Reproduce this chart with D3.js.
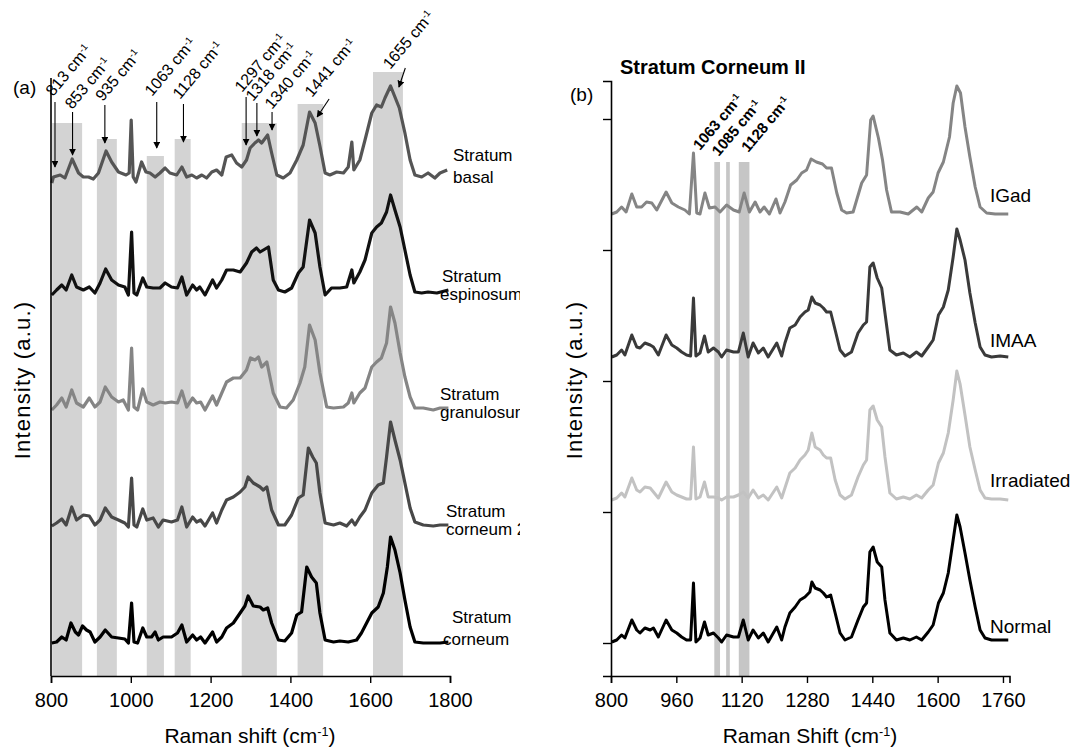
<!DOCTYPE html>
<html>
<head>
<meta charset="utf-8">
<script src="https://cdn.jsdelivr.net/npm/d3@7"></script>
<style>
  body { margin: 0; background: #fff; }
  text { font-family: "Liberation Sans", Arial, sans-serif; fill: #000; }
</style>
</head>
<body>
<div id="chart"></div>
<script>
var w = 1073;
var h = 753;

// *** DATA ***
// each spectrum: [Raman shift (cm-1), intensity above its own baseline (a.u.)]
var basal = [[802,-1],[806,5],[823,7],[835,4],[853,23],[869,9],[881,5],[894,5],[906,3],[919,9],[938,31],[952,20],[969,10],[988,7],[996,9],[1001,62],[1006,5],[1013,0],[1027,20],[1038,10],[1048,9],[1061,5],[1073,9],[1086,14],[1098,9],[1115,7],[1128,15],[1140,5],[1153,7],[1165,4],[1178,7],[1190,4],[1203,10],[1215,12],[1228,7],[1239,25],[1253,27],[1265,19],[1278,15],[1290,22],[1299,34],[1311,39],[1320,42],[1328,39],[1343,47],[1353,29],[1366,7],[1382,4],[1399,9],[1416,22],[1432,37],[1448,70],[1462,59],[1474,36],[1487,9],[1499,7],[1516,10],[1533,9],[1545,15],[1554,40],[1559,12],[1574,22],[1587,42],[1604,69],[1616,77],[1628,75],[1637,84],[1651,96],[1662,85],[1673,74],[1687,49],[1700,22],[1712,7],[1729,5],[1745,9],[1762,4],[1775,9],[1793,12]];
var espinosum = [[802,-2],[814,3],[827,8],[838,3],[852,18],[864,6],[881,3],[896,6],[910,0],[923,10],[937,24],[952,13],[969,8],[985,6],[994,-2],[1002,61],[1008,0],[1015,-2],[1030,15],[1040,6],[1056,5],[1073,5],[1086,10],[1102,6],[1117,5],[1128,16],[1140,-2],[1155,8],[1165,3],[1173,6],[1186,-2],[1205,13],[1215,5],[1228,13],[1240,23],[1257,23],[1274,21],[1290,30],[1303,41],[1315,45],[1324,41],[1345,46],[1357,13],[1370,3],[1386,1],[1403,5],[1420,20],[1432,26],[1448,73],[1462,60],[1474,26],[1487,-2],[1503,5],[1524,5],[1541,6],[1554,23],[1559,10],[1574,21],[1587,33],[1604,60],[1616,66],[1628,70],[1641,81],[1651,98],[1662,83],[1675,66],[1687,43],[1700,18],[1712,1],[1729,0],[1745,1],[1767,0],[1796,3]];
var granulosum = [[802,-2],[814,3],[827,10],[838,1],[852,18],[864,5],[881,1],[896,10],[910,1],[923,6],[936,21],[952,11],[969,6],[981,8],[994,-2],[1002,60],[1008,1],[1017,-2],[1030,19],[1040,6],[1056,3],[1073,6],[1086,5],[1102,6],[1117,5],[1128,17],[1140,1],[1155,10],[1165,5],[1175,6],[1186,-2],[1205,12],[1215,3],[1228,15],[1240,26],[1257,30],[1274,30],[1290,38],[1300,50],[1311,48],[1320,51],[1328,41],[1341,46],[1357,15],[1374,1],[1390,0],[1407,8],[1424,25],[1436,41],[1448,83],[1462,68],[1474,35],[1491,1],[1508,0],[1533,1],[1545,5],[1554,15],[1559,5],[1574,15],[1587,20],[1604,41],[1616,46],[1628,50],[1641,65],[1651,101],[1662,85],[1675,55],[1687,31],[1700,11],[1712,0],[1733,0],[1758,-2],[1775,0],[1796,0]];
var corneum2 = [[802,-1],[814,2],[827,6],[838,0],[852,18],[864,5],[881,10],[896,9],[910,0],[923,5],[936,17],[952,8],[969,5],[985,2],[994,-2],[1002,47],[1008,0],[1015,-2],[1030,16],[1040,5],[1056,7],[1069,-2],[1081,5],[1102,3],[1117,5],[1128,18],[1140,-2],[1155,8],[1165,3],[1175,5],[1186,-1],[1205,12],[1215,2],[1228,15],[1240,25],[1257,28],[1274,33],[1286,38],[1294,48],[1307,42],[1324,38],[1332,35],[1341,38],[1353,15],[1370,0],[1386,0],[1403,10],[1420,27],[1432,30],[1445,77],[1456,68],[1465,62],[1474,32],[1487,2],[1508,0],[1524,2],[1541,-1],[1554,5],[1562,0],[1574,8],[1587,15],[1604,32],[1620,40],[1633,42],[1641,68],[1651,103],[1662,85],[1675,65],[1687,42],[1700,17],[1712,3],[1733,0],[1758,-1],[1775,0],[1796,0]];
var corneum = [[802,-1],[814,0],[827,5],[838,2],[850,19],[861,10],[869,7],[879,16],[889,12],[898,10],[910,0],[923,5],[936,12],[952,5],[969,4],[985,3],[994,-1],[1002,39],[1008,0],[1017,-1],[1030,14],[1040,5],[1052,5],[1061,10],[1069,2],[1081,5],[1102,5],[1117,9],[1128,17],[1140,0],[1155,7],[1165,2],[1175,5],[1186,-1],[1205,10],[1215,0],[1228,5],[1240,14],[1257,19],[1274,29],[1286,36],[1294,46],[1307,36],[1324,35],[1332,32],[1343,34],[1353,19],[1370,2],[1386,1],[1403,9],[1416,27],[1428,30],[1441,75],[1453,65],[1465,59],[1474,29],[1487,2],[1508,0],[1524,1],[1545,0],[1566,2],[1578,9],[1591,19],[1604,29],[1620,35],[1633,49],[1643,75],[1651,105],[1662,92],[1675,69],[1687,42],[1700,15],[1712,0],[1733,-1],[1758,-1],[1775,-1],[1796,0]];

var igad = [[802,0],[814,2],[826,7],[837,2],[851,20],[863,7],[875,7],[887,12],[900,11],[912,4],[935,22],[949,11],[965,7],[981,4],[992,0],[1002,61],[1010,1],[1018,0],[1030,21],[1041,6],[1055,7],[1067,2],[1083,9],[1100,4],[1114,2],[1126,21],[1139,2],[1153,12],[1165,2],[1175,7],[1188,0],[1204,15],[1214,1],[1226,12],[1240,29],[1255,34],[1267,41],[1279,44],[1290,55],[1303,52],[1318,50],[1328,46],[1340,46],[1353,21],[1365,4],[1377,1],[1393,2],[1414,31],[1426,39],[1436,94],[1442,98],[1455,76],[1465,54],[1475,24],[1487,2],[1508,2],[1528,0],[1549,7],[1561,2],[1577,16],[1589,22],[1601,41],[1614,52],[1629,77],[1638,111],[1647,128],[1656,121],[1667,87],[1679,57],[1692,27],[1704,7],[1720,1],[1741,0],[1773,0]];
var imaa = [[802,0],[814,2],[826,7],[834,2],[851,22],[863,10],[871,9],[883,14],[896,12],[904,10],[916,2],[935,22],[949,12],[961,9],[973,5],[985,2],[995,1],[1002,59],[1008,1],[1018,4],[1029,21],[1038,5],[1051,9],[1063,5],[1071,0],[1083,7],[1100,5],[1112,5],[1124,24],[1136,0],[1148,14],[1161,4],[1173,9],[1185,0],[1206,14],[1218,1],[1226,14],[1238,29],[1251,32],[1263,40],[1275,45],[1283,47],[1292,60],[1300,54],[1312,52],[1320,49],[1328,45],[1338,45],[1349,27],[1361,7],[1373,1],[1389,5],[1405,24],[1418,32],[1426,35],[1434,90],[1442,94],[1452,79],[1463,69],[1471,44],[1483,7],[1499,2],[1516,4],[1532,0],[1548,5],[1561,1],[1577,10],[1589,17],[1602,42],[1614,50],[1626,67],[1638,100],[1647,128],[1655,117],[1667,97],[1679,64],[1692,34],[1704,10],[1716,2],[1732,0],[1753,1],[1773,0]];
var irradiated = [[802,0],[814,2],[826,7],[834,3],[851,22],[863,10],[871,8],[883,13],[896,12],[904,8],[916,2],[935,18],[949,8],[961,5],[973,3],[985,1],[995,1],[1002,53],[1008,1],[1018,3],[1029,18],[1038,3],[1051,3],[1063,2],[1071,0],[1083,3],[1100,3],[1112,5],[1124,8],[1136,2],[1148,10],[1161,2],[1173,5],[1185,0],[1206,13],[1218,2],[1226,12],[1238,27],[1251,32],[1263,40],[1275,45],[1283,50],[1292,67],[1300,53],[1312,50],[1320,45],[1328,42],[1338,42],[1349,20],[1361,5],[1373,1],[1389,5],[1405,23],[1418,35],[1426,40],[1434,90],[1442,94],[1452,80],[1463,73],[1471,43],[1483,7],[1499,1],[1516,3],[1532,1],[1548,5],[1561,2],[1577,10],[1589,15],[1602,37],[1614,47],[1626,67],[1638,100],[1647,129],[1655,116],[1667,85],[1679,53],[1692,30],[1704,10],[1716,2],[1732,1],[1753,1],[1773,0]];
var normal = [[802,1],[814,3],[826,8],[834,5],[851,23],[863,13],[871,10],[883,15],[896,13],[904,15],[916,6],[935,23],[949,13],[961,10],[973,6],[985,3],[995,3],[1002,60],[1008,1],[1018,5],[1029,21],[1038,8],[1051,10],[1063,5],[1071,1],[1083,8],[1100,6],[1112,6],[1124,23],[1136,3],[1148,13],[1161,5],[1173,10],[1185,1],[1206,16],[1218,3],[1226,16],[1238,30],[1251,36],[1263,43],[1275,46],[1287,51],[1292,61],[1300,55],[1312,53],[1320,50],[1328,46],[1338,48],[1349,30],[1361,10],[1373,3],[1389,6],[1405,23],[1418,36],[1426,40],[1434,91],[1442,96],[1452,81],[1463,76],[1471,43],[1483,10],[1499,3],[1516,5],[1532,3],[1548,6],[1561,3],[1577,11],[1589,18],[1602,40],[1614,50],[1626,70],[1638,103],[1647,128],[1655,116],[1667,90],[1679,63],[1692,36],[1704,13],[1716,5],[1732,3],[1753,3],[1773,3]];

// panel (a) layers, bottom to top
var layersA = [
  {name: ["Stratum", "corneum"], data: corneum, offset: 34},
  {name: ["Stratum", "corneum 2"], data: corneum2, offset: 151},
  {name: ["Stratum", "granulosum"], data: granulosum, offset: 268},
  {name: ["Stratum", "espinosum"], data: espinosum, offset: 383},
  {name: ["Stratum", "basal"], data: basal, offset: 494}
];
// panel (b) layers, bottom to top
var layersB = [
  {name: "Normal", data: normal, offset: 0},
  {name: "Irradiated", data: irradiated, offset: 143},
  {name: "IMAA", data: imaa, offset: 286},
  {name: "IGad", data: igad, offset: 429}
];

// shaded bands [from, to, top (a.u.)]
var bandsA = [[803,878,553],[915,965,537],[1040,1083,520],[1110,1150,537],[1278,1366,553],[1418,1482,572],[1607,1682,604]];
var bandsB = [[1053,1067,481],[1082,1091,481],[1113,1139,481]];

var ticksA = [800,1000,1200,1400,1600,1800], minorA = [900,1100,1300,1500,1700];
var ticksB = [800,960,1120,1280,1440,1600,1760], minorB = [880,1040,1200,1360,1520,1680];
var yTicksB = [0,131,262,393,524];
// **************************

// peak annotations for panel (a): arrow top/tip and label anchor
var peaksA = [
  {label: "813",  ax0: 810,  ay0: 574, ax1: 810,  ay1: 509, lx: 805,  ly: 579},
  {label: "853",  ax0: 854,  ay0: 564, ax1: 854,  ay1: 521, lx: 853,  ly: 566},
  {label: "935",  ax0: 935,  ay0: 571, ax1: 935,  ay1: 533, lx: 930,  ly: 574},
  {label: "1063", ax0: 1065, ay0: 574, ax1: 1065, ay1: 528, lx: 1053, ly: 579},
  {label: "1128", ax0: 1132, ay0: 572, ax1: 1132, ay1: 534, lx: 1123, ly: 576},
  {label: "1297", ax0: 1289, ay0: 579, ax1: 1289, ay1: 531, lx: 1279, ly: 583},
  {label: "1318", ax0: 1316, ay0: 573, ax1: 1316, ay1: 540, lx: 1306, ly: 574},
  {label: "1340", ax0: 1354, ay0: 564, ax1: 1354, ay1: 546, lx: 1354, ly: 566},
  {label: "1441", ax0: 1497, ay0: 577, ax1: 1467, ay1: 559, lx: 1454, ly: 578},
  {label: "1655", ax0: 1688, ay0: 608, ax1: 1672, ay1: 589, lx: 1650, ly: 606}
];
var peaksB = [
  {label: "1063", lx: 1018, ly: 492},
  {label: "1085", lx: 1064, ly: 486},
  {label: "1128", lx: 1136, ly: 490}
];

var svg = d3.select("#chart")
    .append("svg")
    .attr("width", w)
    .attr("height", h);

svg.append("rect").attr("width", w).attr("height", h).attr("fill", "#fff");

var defs = svg.append("defs");
defs.append("marker")
    .attr("id", "arrow")
    .attr("viewBox", "0 0 10 10")
    .attr("refX", 9).attr("refY", 5)
    .attr("markerWidth", 7).attr("markerHeight", 7)
    .attr("markerUnits", "userSpaceOnUse")
    .attr("orient", "auto")
  .append("path")
    .attr("d", "M0,0L10,5L0,10z")
    .attr("fill", "#000");
defs.append("clipPath").attr("id", "clipA")
  .append("rect").attr("x", 0).attr("y", 0).attr("width", 520).attr("height", h);

// superscript "cm-1" helper
function cmLabel(sel, prefix) {
  sel.append("tspan").text(prefix + " cm");
  sel.append("tspan").attr("dy", "-0.55em").style("font-size", "0.6em").text("-1");
}

// ---------------- panel (a) ----------------
var xA = d3.scaleLinear().domain([800, 1800]).range([51, 450]);
var yA = d3.scaleLinear().domain([0, 598]).range([676, 78]);
var gA = svg.append("g").attr("clip-path", "url(#clipA)");

gA.selectAll(".bandA")
  .data(bandsA)
  .enter().append("rect")
    .attr("fill", "#d3d3d3")
    .attr("x", function(d) { return xA(d[0]); })
    .attr("width", function(d) { return xA(d[1]) - xA(d[0]); })
    .attr("y", function(d) { return yA(d[2]); })
    .attr("height", function(d) { return yA(0) - yA(d[2]); });

var colorsA = ["#000000", "#484848", "#858585", "#111111", "#555555"];

layersA.forEach(function(L, i) {
  var line = d3.line()
      .x(function(d) { return xA(d[0]); })
      .y(function(d) { return yA(L.offset + d[1]); });
  gA.append("path")
      .datum(L.data)
      .attr("fill", "none")
      .attr("stroke", colorsA[i])
      .attr("stroke-width", 3.2)
      .attr("stroke-linejoin", "round")
      .attr("d", line);
});

// layer names on the right
var nameBoxA = [[452, 623, 443, 645], [446, 517, 446, 535], [440, 400, 440, 418], [442, 282, 440, 300], [453, 161, 453, 183]];
layersA.forEach(function(L, i) {
  var p = nameBoxA[i];
  gA.append("text").attr("x", p[0]).attr("y", p[1]).style("font-size", "17px").text(L.name[0]);
  gA.append("text").attr("x", p[2]).attr("y", p[3]).style("font-size", "17px").text(L.name[1]);
});

// arrows and rotated peak labels
gA.selectAll(".arrA")
  .data(peaksA)
  .enter().append("line")
    .attr("x1", function(d) { return xA(d.ax0); })
    .attr("y1", function(d) { return yA(d.ay0); })
    .attr("x2", function(d) { return xA(d.ax1); })
    .attr("y2", function(d) { return yA(d.ay1); })
    .attr("stroke", "#000")
    .attr("stroke-width", 1.1)
    .attr("marker-end", "url(#arrow)");

peaksA.forEach(function(d) {
  var t = gA.append("text")
      .attr("transform", "translate(" + xA(d.lx) + "," + yA(d.ly) + ") rotate(-50)")
      .style("font-size", "16px");
  cmLabel(t, d.label);
});

// axes
var axA = svg.append("g").attr("transform", "translate(0," + yA(0) + ")");
axA.call(d3.axisBottom(xA).tickValues(minorA).tickSize(5).tickFormat(""));
axA.call(d3.axisBottom(xA).tickValues(ticksA).tickSize(7).tickPadding(10).tickFormat(d3.format("d")));
svg.append("line")
    .attr("x1", xA(800)).attr("x2", xA(800))
    .attr("y1", yA(0)).attr("y2", 78)
    .attr("stroke", "#000").attr("stroke-width", 1.6);

svg.append("text").attr("x", 13).attr("y", 94).style("font-size", "19px").text("(a)");

var tA = svg.append("text")
    .attr("x", 250).attr("y", 743)
    .attr("text-anchor", "middle")
    .style("font-size", "21px")
    .text("Raman shift (cm");
tA.append("tspan").attr("dy", "-0.55em").style("font-size", "0.6em").text("-1");
tA.append("tspan").attr("dy", "0.33em").text(")");

svg.append("text")
    .attr("transform", "translate(30,380) rotate(-90)")
    .attr("text-anchor", "middle")
    .style("font-size", "22px")
    .style("letter-spacing", "1.2px")
    .text("Intensity (a.u.)");

// ---------------- panel (b) ----------------
var xB = d3.scaleLinear().domain([800, 1776]).range([611, 1009.5]);
var yB = d3.scaleLinear().domain([-33, 562]).range([676, 81]);
var gB = svg.append("g");

gB.selectAll(".bandB")
  .data(bandsB)
  .enter().append("rect")
    .attr("fill", "#c6c6c6")
    .attr("x", function(d) { return xB(d[0]); })
    .attr("width", function(d) { return xB(d[1]) - xB(d[0]); })
    .attr("y", function(d) { return yB(d[2]); })
    .attr("height", function(d) { return yB(-33) - yB(d[2]); });

var colorsB = ["#000000", "#c2c2c2", "#3a3a3a", "#858585"];

layersB.forEach(function(L, i) {
  var line = d3.line()
      .x(function(d) { return xB(d[0]); })
      .y(function(d) { return yB(L.offset + d[1]); });
  gB.append("path")
      .datum(L.data)
      .attr("fill", "none")
      .attr("stroke", colorsB[i])
      .attr("stroke-width", 3)
      .attr("stroke-linejoin", "round")
      .attr("d", line);
});

var nameYB = [633, 487, 347, 202];
layersB.forEach(function(L, i) {
  gB.append("text").attr("x", 990).attr("y", nameYB[i]).style("font-size", "19px").text(L.name);
});

peaksB.forEach(function(d) {
  var t = gB.append("text")
      .attr("transform", "translate(" + xB(d.lx) + "," + yB(d.ly) + ") rotate(-50)")
      .style("font-size", "15px")
      .style("font-weight", "bold");
  cmLabel(t, d.label);
});

var axB = svg.append("g").attr("transform", "translate(0,676)");
axB.call(d3.axisBottom(xB).tickValues(minorB).tickSize(5).tickFormat(""));
axB.call(d3.axisBottom(xB).tickValues(ticksB).tickSize(7).tickPadding(10).tickFormat(d3.format("d")));
var ayB = svg.append("g").attr("transform", "translate(611,0)");
ayB.call(d3.axisLeft(yB).tickValues(yTicksB).tickSize(8).tickFormat(""));

svg.append("text").attr("x", 570).attr("y", 101).style("font-size", "19px").text("(b)");
svg.append("text").attr("x", 620).attr("y", 74)
    .style("font-size", "20px").style("font-weight", "bold")
    .text("Stratum Corneum II");

var tB = svg.append("text")
    .attr("x", 810).attr("y", 743)
    .attr("text-anchor", "middle")
    .style("font-size", "21px")
    .text("Raman Shift (cm");
tB.append("tspan").attr("dy", "-0.55em").style("font-size", "0.6em").text("-1");
tB.append("tspan").attr("dy", "0.33em").text(")");

svg.append("text")
    .attr("transform", "translate(582,380) rotate(-90)")
    .attr("text-anchor", "middle")
    .style("font-size", "22px")
    .style("letter-spacing", "1.2px")
    .text("Intensity (a.u.)");

// axis styling
svg.selectAll(".domain").attr("stroke", "#000").attr("stroke-width", 1.6);
svg.selectAll(".tick line").attr("stroke", "#000").attr("stroke-width", 1.4);
svg.selectAll(".tick text")
    .style("font-size", "20px")
    .style("font-family", "'Liberation Sans', Arial, sans-serif")
    .attr("fill", "#000");
</script>
</body>
</html>
